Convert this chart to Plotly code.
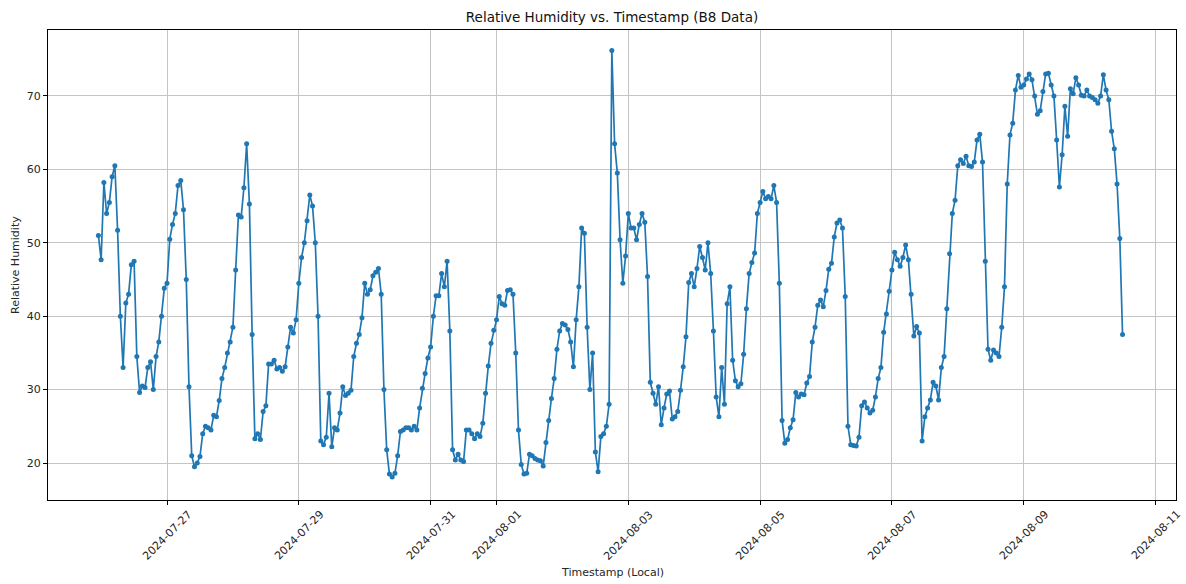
import pandas as pd
import plotly.graph_objects as go

# Hourly B8 relative-humidity readings starting 2024-07-25 23:00 (local time)
start_time = "2024-07-25 23:00"

humidity_jul25_27 = [
    51, 47.7, 58.2, 54, 55.5, 59, 60.5, 51.7, 40, 33, 41.8, 43, 47, 47.5, 34.5, 29.6,
    30.5, 30.3, 33, 33.8, 30, 34.5, 36.5, 40, 43.8, 44.5, 50.5, 52.5, 54, 57.8, 58.5, 54.5,
    45, 30.4, 21, 19.5, 20, 20.9, 24, 25,
]
humidity_jul27_29 = [
    24.8, 24.5, 26.5, 26.3, 28.5, 31.5, 33, 35, 36.5, 38.5, 46.3, 53.8, 53.5, 57.5, 63.5,
    55.3, 37.5, 23.3, 24, 23.2, 27, 27.8, 33.5, 33.5, 34, 32.8, 33, 32.5, 33.1, 35.8, 38.5,
    37.7, 39.5, 44.5, 48, 50, 53, 56.5, 55, 50, 40,
]
humidity_jul29_31 = [
    23, 22.5, 23.5, 29.5, 22.2, 24.8, 24.5, 26.8, 30.4, 29.2, 29.5, 29.9, 34.5, 36.3, 37.5,
    39.8, 44.5, 43, 43.6, 45.5, 46, 46.5, 43, 30, 21.8, 18.5, 18.1, 18.6, 21, 24.3, 24.5,
    24.8, 24.8, 24.5, 25, 24.5, 27.5, 30.2, 32.2, 34.3,
]
humidity_jul31_aug02 = [
    35.8, 40, 42.8, 42.8, 45.8, 44, 47.5, 38, 21.8, 20.4, 21.2, 20.4, 20.2, 24.5, 24.5, 24,
    23.3, 24, 23.6, 25.4, 29.5, 33.2, 36.3, 38.1, 39.5, 42.7, 41.7, 41.5, 43.5, 43.6, 43, 35,
    24.5, 19.8, 18.5, 18.6, 21.2, 21, 20.6, 20.4,
]
humidity_aug02_04 = [
    20.3, 19.6, 22.8, 25.8, 28.8, 31.5, 35.5, 38, 39, 38.8, 38.2, 36.5, 33.1, 39.5, 44, 52,
    51.3, 38.5, 30, 35, 21.5, 18.8, 23.6, 24, 25, 28, 76.2, 63.5, 59.5, 50.4, 44.5, 48.2,
    54, 52, 52, 50.4, 52.5, 54, 52.8, 45.4,
]
humidity_aug04_06 = [
    31, 29.5, 28, 30.4, 25.2, 27.5, 29.4, 29.8, 26, 26.3, 27, 29.9, 33.1, 37.2, 44.6, 45.8,
    44, 46.5, 49.5, 48, 46.3, 50, 45.8, 38, 29, 26.3, 33, 28, 41.7, 44, 34, 31.2, 30.4, 30.8,
    34.8, 41, 45.8, 47.3, 48.6, 54,
]
humidity_aug06_07 = [
    55.5, 57, 56, 56.3, 56, 57.8, 55.5, 44.5, 25.8, 22.7, 23.2, 24.8, 25.9, 29.6, 29, 29.4,
    29.3, 30.9, 31.8, 36.5, 38.5, 41.5, 42.2, 41.3, 43.5, 46.4, 47.2, 50.8, 52.7, 53.1, 52,
    42.7, 25, 22.5, 22.4, 22.3, 23.5, 27.8, 28.3, 27.5,
]
humidity_aug07_09 = [
    26.8, 27.2, 29, 31.5, 33, 37.8, 40.3, 43.4, 46.3, 48.7, 47.7, 46.8, 48, 49.7, 47.7, 43,
    37.3, 38.6, 37.7, 23, 26.3, 27.5, 28.6, 31, 30.5, 28.6, 33, 34.5, 41, 48.5, 54, 55.8,
    60.5, 61.3, 60.8, 61.8, 60.5, 60.4, 61, 64,
]
humidity_aug09_10 = [
    64.8, 61, 47.5, 35.5, 34, 35.4, 35, 34.5, 38.5, 44, 58, 64.7, 66.3, 70.8, 72.8, 71.2,
    71.5, 72.3, 73, 72.2, 70, 67.5, 68, 70.6, 73, 73.1, 71.5, 70, 64, 57.6, 62, 68.6, 64.5,
    71, 70.3, 72.5, 71.5, 70.1, 70, 70.8, 70, 69.8, 69.5, 69, 70, 72.9, 70.8, 69.5, 65.2,
    62.8, 58, 50.6, 37.5,
]

humidity = (
    humidity_jul25_27 + humidity_jul27_29 + humidity_jul29_31 + humidity_jul31_aug02
    + humidity_aug02_04 + humidity_aug04_06 + humidity_aug06_07 + humidity_aug07_09
    + humidity_aug09_10
)
timestamps = pd.date_range(start=start_time, periods=len(humidity), freq="h")

tick_dates = [
    "2024-07-27", "2024-07-29", "2024-07-31", "2024-08-01", "2024-08-03",
    "2024-08-05", "2024-08-07", "2024-08-09", "2024-08-11",
]
y_ticks = [20, 30, 40, 50, 60, 70]

blue = "#1f77b4"
font_family = "DejaVu Sans, Liberation Sans, sans-serif"

fig = go.Figure()
fig.add_trace(go.Scatter(
    x=timestamps,
    y=humidity,
    mode="lines+markers",
    line=dict(color=blue, width=1.7),
    marker=dict(color=blue, size=5),
    showlegend=False,
))

# Rotated date labels centred under each tick
annotations = []
for d in tick_dates:
    annotations.append(dict(
        x=d, xref="x", y=0, yref="paper",
        text=d, showarrow=False, textangle=-45,
        xanchor="center", yanchor="middle", yshift=-35,
        font=dict(family=font_family, size=11, color="#262626"),
    ))
annotations.append(dict(
    x=0.5, xref="paper", y=0, yref="paper", text="Timestamp (Local)",
    showarrow=False, xanchor="center", yanchor="middle", yshift=-72,
    font=dict(family=font_family, size=11, color="#262626"),
))
annotations.append(dict(
    x=0, xref="paper", y=0.5, yref="paper", text="Relative Humidity",
    showarrow=False, textangle=-90, xanchor="center", yanchor="middle", xshift=-33,
    font=dict(family=font_family, size=11, color="#262626"),
))

fig.update_layout(
    width=1186, height=584,
    margin=dict(l=48, r=10, t=30, b=84),
    paper_bgcolor="white", plot_bgcolor="white",
    title=dict(
        text="Relative Humidity vs. Timestamp (B8 Data)",
        x=0.5, xref="paper", xanchor="center",
        y=1 - 17 / 584, yanchor="middle",
        font=dict(family=font_family, size=13.5, color="#111111"),
    ),
    annotations=annotations,
    font=dict(family=font_family, size=11, color="#262626"),
)
fig.update_xaxes(
    range=["2024-07-25 04:39", "2024-08-11 07:28"],
    tickvals=tick_dates, showticklabels=False,
    ticks="outside", ticklen=4, tickcolor="black",
    showgrid=True, gridcolor="#c4c4c4", gridwidth=1,
    showline=True, linecolor="black", linewidth=1, mirror=True,
    zeroline=False,
)
fig.update_yaxes(
    range=[14.96, 78.99],
    tickvals=y_ticks, ticks="outside", ticklen=4, tickcolor="black",
    tickfont=dict(family=font_family, size=11, color="#262626"),
    showgrid=True, gridcolor="#c4c4c4", gridwidth=1,
    showline=True, linecolor="black", linewidth=1, mirror=True,
    zeroline=False,
)

fig.write_html("out.html")
